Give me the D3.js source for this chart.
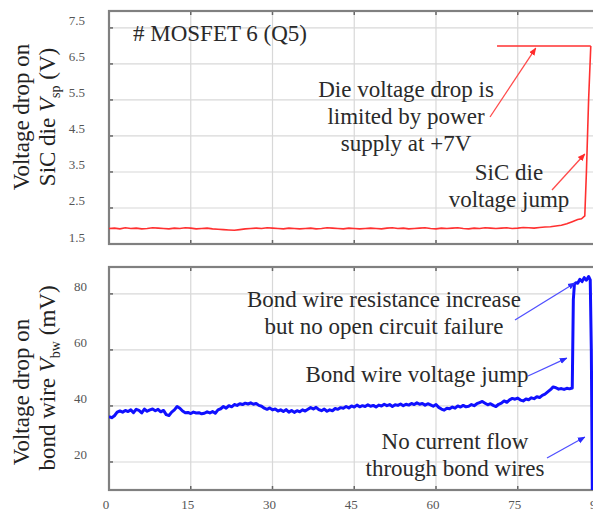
<!DOCTYPE html>
<html>
<head>
<meta charset="utf-8">
<script src="https://cdn.jsdelivr.net/npm/d3@7"></script>
<style>
  html, body { margin: 0; padding: 0; background: #fff; }
  svg { display: block; font-family: "Liberation Serif", "DejaVu Serif", serif; }
</style>
</head>
<body>
<svg id="chart" width="593" height="512"></svg>
<script>
// time axis ticks (s)
const timeTicks = [0, 15, 30, 45, 60, 75, 90];
const dieTicks = [1.5, 2.5, 3.5, 4.5, 5.5, 6.5, 7.5];
const wireTicks = [20, 40, 60, 80];

// SiC die voltage Vsp (V), one sample per second from t = 0
const dieVoltage = [1.93, 1.94, 1.92, 1.95, 1.93, 1.94, 1.92, 1.93, 1.95, 1.94,
  1.93, 1.92, 1.94, 1.93, 1.95, 1.94, 1.92, 1.93, 1.94, 1.92,
  1.91, 1.90, 1.89, 1.88, 1.90, 1.92, 1.93, 1.94, 1.93, 1.95,
  1.94, 1.93, 1.92, 1.94, 1.93, 1.92, 1.93, 1.94, 1.92, 1.93,
  1.95, 1.94, 1.93, 1.92, 1.94, 1.93, 1.92, 1.93, 1.94, 1.93,
  1.92, 1.94, 1.95, 1.93, 1.94, 1.92, 1.93, 1.94, 1.95, 1.93,
  1.92, 1.94, 1.93, 1.94, 1.95, 1.93, 1.92, 1.94, 1.93, 1.95,
  1.94, 1.93, 1.94, 1.95, 1.93, 1.94, 1.96, 1.95, 1.94, 1.96,
  1.97, 1.98, 2.00, 2.02, 2.06, 2.12, 2.18];
// die voltage jump at the end [t, V]
const dieJump = [[86.7, 2.2], [87.3, 2.28], [87.6, 3.5], [88.0, 5.5], [88.4, 7.0]];
// supply-limited level
const supplyLimit = [[71.2, 7.0], [88.4, 7.0]];

// bond wire voltage Vbw (mV), one sample every 0.5 s from t = 0
const wireVoltage = [36.2, 35.8, 36.5, 37.8, 38.2, 37.8, 38.4, 38.0, 38.6, 37.6,
  38.8, 38.4, 37.5, 38.9, 38.1, 38.6, 38.9, 38.3, 38.8, 37.9,
  38.4, 36.9, 36.6, 37.8, 38.6, 39.8, 39.2, 38.2, 37.6, 37.7,
  37.3, 37.8, 37.5, 37.6, 37.2, 37.4, 37.9, 37.5, 38.0, 37.4,
  38.6, 39.0, 39.8, 39.2, 40.1, 39.7, 40.5, 40.2, 40.8, 40.5,
  41.0, 40.7, 41.1, 40.6, 40.9, 40.2, 39.9, 39.2, 38.8, 39.3,
  38.6, 38.9, 38.2, 38.6, 38.0, 38.7, 37.8, 38.4, 37.7, 38.3,
  37.9, 38.6, 38.2, 38.8, 39.4, 38.9, 39.5, 38.7, 38.3, 38.9,
  38.1, 38.6, 38.3, 39.1, 38.8, 39.4, 39.2, 39.8, 39.3, 40.0,
  39.6, 40.3, 39.7, 40.1, 39.8, 40.4, 39.9, 40.2, 39.6, 40.3,
  40.0, 40.6, 40.1, 40.5, 39.8, 40.4, 40.2, 40.7, 40.1, 40.6,
  40.3, 40.9, 40.5, 41.1, 40.6, 40.9, 40.3, 40.8, 40.4, 39.9,
  40.5, 39.5, 38.9, 38.5, 39.2, 39.0, 39.6, 39.2, 40.0, 39.6,
  40.2, 39.7, 39.9, 40.5, 40.1, 40.8, 41.2, 41.6, 41.0, 40.4,
  40.8, 40.2, 39.8, 40.6, 41.0, 41.8, 41.3, 42.2, 42.7, 42.4,
  42.8, 42.1, 41.8, 42.5, 42.2, 42.9, 42.6, 43.3, 43.0, 43.8,
  44.2, 45.0, 45.8, 46.8, 46.5, 46.0, 46.2, 45.9, 46.3, 46.1,
  46.4];
// bond wire jump and open circuit [t, mV]
const wireJump = [[85.2, 78], [85.4, 83.5], [85.7, 84.0], [86.0, 83.8], [86.4, 85.2],
  [86.8, 84.4], [87.2, 85.8], [87.6, 84.9], [88.0, 86.2], [88.3, 85.0], [88.5, 60], [88.7, 5]];

const svg = d3.select('#chart');

const x = d3.scaleLinear().domain([0, 90]).range([109, 599.5]);
const yTop = d3.scaleLinear().domain([1.5, 7.97]).range([244, 11]);
const yBot = d3.scaleLinear().domain([10, 89.6]).range([490, 267]);

const defs = svg.append('defs');
function clip(id, y) {
    defs.append('clipPath').attr('id', id)
        .append('rect').attr('x', x(0)).attr('y', y.range()[1])
        .attr('width', x(90) - x(0)).attr('height', y.range()[0] - y.range()[1]);
}
clip('clipTop', yTop);
clip('clipBot', yBot);

['red', 'blue'].forEach(c => {
    defs.append('marker').attr('id', 'arr-' + c)
        .attr('viewBox', '0 0 10 10').attr('refX', 9).attr('refY', 5)
        .attr('markerWidth', 6).attr('markerHeight', 6).attr('orient', 'auto')
        .append('path').attr('d', 'M0,1 L10,5 L0,9 z')
        .attr('fill', c === 'red' ? '#ff2a2a' : '#2a2aff');
});

function panel(y, ticks, labelX) {
    const g = svg.append('g');
    // grid
    g.selectAll('line.gx').data(timeTicks.slice(1)).join('line')
        .attr('x1', d => x(d)).attr('x2', d => x(d))
        .attr('y1', y.range()[1]).attr('y2', y.range()[0])
        .attr('stroke', '#d8d8d8').attr('stroke-width', 1.2);
    g.selectAll('line.gy').data(ticks).join('line')
        .attr('x1', x(0)).attr('x2', x(90))
        .attr('y1', d => y(d)).attr('y2', d => y(d))
        .attr('stroke', '#d8d8d8').attr('stroke-width', 1.2);
    // small inner ticks
    timeTicks.slice(1).forEach(t => {
        g.append('line').attr('x1', x(t)).attr('x2', x(t))
            .attr('y1', y.range()[1]).attr('y2', y.range()[1] + 4)
            .attr('stroke', '#666').attr('stroke-width', 1.5);
        g.append('line').attr('x1', x(t)).attr('x2', x(t))
            .attr('y1', y.range()[0]).attr('y2', y.range()[0] - 4)
            .attr('stroke', '#666').attr('stroke-width', 1.5);
    });
    ticks.forEach(v => {
        g.append('line').attr('x1', x(0)).attr('x2', x(0) + 4)
            .attr('y1', y(v)).attr('y2', y(v))
            .attr('stroke', '#666').attr('stroke-width', 1.5);
    });
    // tick labels (sit a bit above their grid line, as in the figure)
    g.selectAll('text.yl').data(ticks).join('text')
        .attr('x', labelX).attr('y', d => y(d) - 2.5)
        .attr('text-anchor', 'end').attr('font-size', 13).attr('fill', '#555')
        .text(d => y === yTop ? d3.format('.1f')(d) : d);
    // frame
    g.append('rect').attr('x', x(0)).attr('y', y.range()[1])
        .attr('width', x(90) - x(0)).attr('height', y.range()[0] - y.range()[1])
        .attr('fill', 'none').attr('stroke', '#808080').attr('stroke-width', 2.2);
    return g;
}

panel(yTop, dieTicks, 85);
panel(yBot, wireTicks, 87);

// x tick labels
svg.selectAll('text.xl').data(timeTicks).join('text')
    .attr('x', d => x(d) - 3).attr('y', 509)
    .attr('text-anchor', 'middle').attr('font-size', 13).attr('fill', '#555')
    .text(d => d);

// die voltage trace
const lineTop = d3.line().x(d => x(d[0])).y(d => yTop(d[1]));
const diePts = dieVoltage.map((v, i) => [i, v]).concat(dieJump);
svg.append('path').attr('clip-path', 'url(#clipTop)')
    .attr('d', lineTop(diePts)).attr('fill', 'none')
    .attr('stroke', '#ff3030').attr('stroke-width', 1.6);
svg.append('path').attr('clip-path', 'url(#clipTop)')
    .attr('d', lineTop(supplyLimit)).attr('fill', 'none')
    .attr('stroke', '#ff3030').attr('stroke-width', 1.6);

// bond wire trace
const lineBot = d3.line().x(d => x(d[0])).y(d => yBot(d[1]));
const wirePts = wireVoltage.map((v, i) => [i * 0.5, v]).concat(wireJump);
svg.append('path').attr('clip-path', 'url(#clipBot)')
    .attr('d', lineBot(wirePts)).attr('fill', 'none')
    .attr('stroke', '#1010ff').attr('stroke-width', 3).attr('stroke-linejoin', 'round');

// y titles
function yTitle(lines) {
    lines.forEach(ln => {
        const t = svg.append('text')
            .attr('transform', `translate(${ln.x},${ln.cy}) rotate(-90)`)
            .attr('text-anchor', 'middle').attr('font-size', 23).attr('fill', '#222');
        ln.parts.forEach(p => {
            const s = t.append('tspan').text(p.t);
            if (p.italic) s.attr('font-style', 'italic');
            if (p.sub) s.attr('font-size', 14).attr('dy', 5);
            if (p.after) s.attr('dy', -5);
        });
    });
}
yTitle([
    { x: 29, cy: 117, parts: [{ t: 'Voltage drop on' }] },
    { x: 55, cy: 117, parts: [{ t: 'SiC die ' }, { t: 'V', italic: true }, { t: 'sp', sub: true }, { t: ' (V)', after: true }] }
]);
yTitle([
    { x: 29, cy: 392, parts: [{ t: 'Voltage drop on' }] },
    { x: 55, cy: 378, parts: [{ t: 'bond wire ' }, { t: 'V', italic: true }, { t: 'bw', sub: true }, { t: ' (mV)', after: true }] }
]);

// annotations
function note(lines, cx, y0) {
    lines.forEach((s, i) => {
        svg.append('text').attr('x', cx).attr('y', y0 + i * 27)
            .attr('text-anchor', 'middle').attr('font-size', 23).attr('fill', '#2a2a2a')
            .text(s);
    });
}
svg.append('text').attr('x', 133).attr('y', 41).attr('font-size', 23).attr('fill', '#2a2a2a')
    .text('# MOSFET 6 (Q5)');
note(['Die voltage drop is', 'limited by power', 'supply at +7V'], 406, 97);
note(['SiC die', 'voltage jump'], 509, 180);
note(['Bond wire resistance increase', 'but no open circuit failure'], 384, 307);
note(['Bond wire voltage jump'], 417, 382);
note(['No current flow', 'through bond wires'], 455, 449);

function arrow(x0, y0, t, v, y, c) {
    svg.append('line').attr('x1', x0).attr('y1', y0)
        .attr('x2', x(t)).attr('y2', y(v))
        .attr('stroke', c === 'red' ? '#ff4a4a' : '#5050ff').attr('stroke-width', 1.3)
        .attr('marker-end', `url(#arr-${c})`);
}
arrow(490, 117, 78.3, 6.94, yTop, 'red');
arrow(552, 190, 87.3, 4.0, yTop, 'red');
arrow(515, 320, 85.5, 83.9, yBot, 'blue');
arrow(528, 376, 84.0, 57.1, yBot, 'blue');
arrow(547, 458, 87.3, 28.9, yBot, 'blue');
</script>
</body>
</html>
